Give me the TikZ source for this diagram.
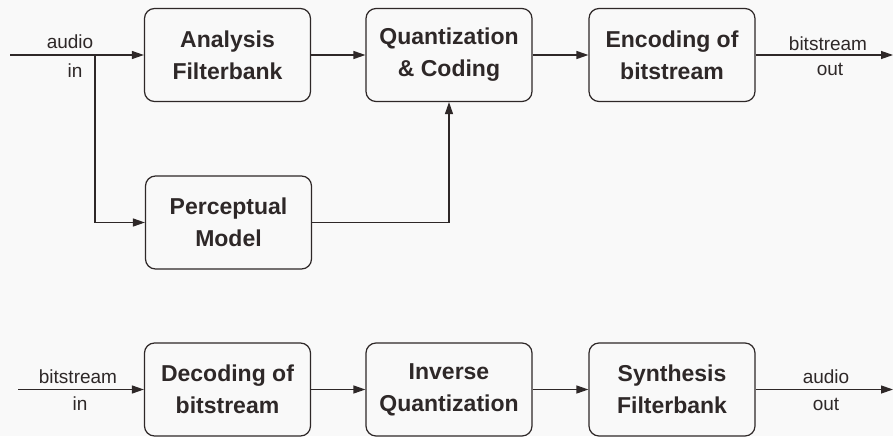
\documentclass[tikz,border=0pt]{standalone}
\usepackage{fontspec}
\setmainfont{Liberation Sans}
\usetikzlibrary{arrows.meta}
\definecolor{ink}{HTML}{2E2828}
\definecolor{bg}{HTML}{F9F9F9}
\begin{document}
\begin{tikzpicture}[x=1pt,y=-1pt,
  blk/.style={draw=ink,line width=1.2pt,rounded corners=10pt,minimum width=166pt,minimum height=93pt,
    align=center,font=\fontsize{23}{32}\selectfont\bfseries,text=ink,inner sep=0pt},
  lbl/.style={font=\fontsize{19}{22}\selectfont,text=ink,inner sep=0pt},
  con/.style={draw=ink,line width=1.2pt,-{Triangle[length=12pt,width=8pt]}},
  wire/.style={draw=ink,line width=1.2pt}]
\fill[bg] (0,0) rectangle (893,436);
\useasboundingbox (0,0) rectangle (893,436);
\node[blk] (ana) at (227.5,55) {Analysis\\Filterbank};
\node[blk] (qua) at (449,55) {Quantization\\\& Coding};
\node[blk] (enc) at (672,55) {Encoding of\\bitstream};
\node[blk] (per) at (228.5,222.5) {Perceptual\\Model};
\node[blk] (dec) at (227.5,389.5) {Decoding of\\bitstream};
\node[blk] (inv) at (449,389.5) {Inverse\\Quantization};
\node[blk] (syn) at (672,389.5) {Synthesis\\Filterbank};
\coordinate (ain) at (10,55);
\coordinate (br) at (95,55);
\coordinate (bout) at (893,55);
\coordinate (bin) at (18,389.5);
\coordinate (aout) at (893,389.5);
\draw[con] (ain) -- (ana.west);
\draw[con] (ana) -- (qua);
\draw[con] (qua) -- (enc);
\draw[con] (enc.east) -- (bout);
\draw[con] (br) |- (per.west);
\draw[con] (per.east) -| (qua.south);
\draw[con] (bin) -- (dec.west);
\draw[con] (dec) -- (inv);
\draw[con] (inv) -- (syn);
\draw[con] (syn.east) -- (aout);
\node[lbl] (t1) at (70,42) {audio};
\node[lbl] (t2) at (75,71) {in};
\node[lbl] (t3) at (828,44) {bitstream};
\node[lbl] (t4) at (830,69) {out};
\node[lbl] (t5) at (78,377) {bitstream};
\node[lbl] (t6) at (80,404) {in};
\node[lbl] (t7) at (826,377) {audio};
\node[lbl] (t8) at (826,404) {out};
\end{tikzpicture}
\end{document}
